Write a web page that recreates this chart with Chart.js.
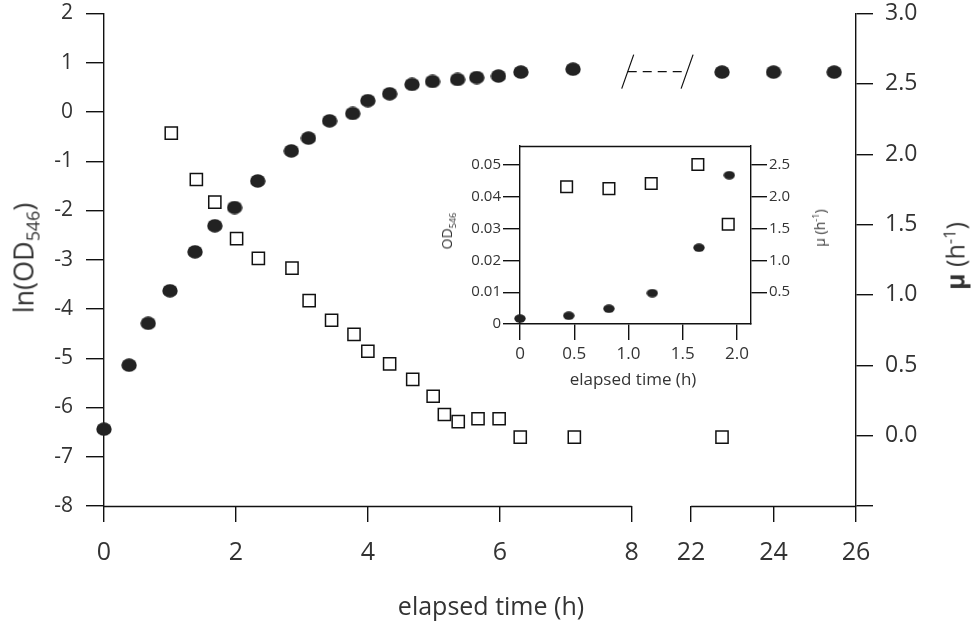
<!DOCTYPE html>
<html>
<head>
<meta charset="utf-8">
<script src="https://cdn.jsdelivr.net/npm/chart.js@4.4.1/dist/chart.umd.min.js"></script>
<style>
  body { margin: 0; background: #fff; }
  #wrap { position: relative; width: 975px; height: 624px; font-family: "Open Sans", sans-serif; color: #333; }
  #main { position: absolute; left: 0; top: 0; }
  #inset { position: absolute; left: 430px; top: 130px; }
  .ttl { position: absolute; white-space: nowrap; line-height: 1; transform: translate(-50%, -50%); }
  .rot { transform: translate(-50%, -50%) rotate(-90deg); }
  sub, sup { font-size: 66%; line-height: 0; }
</style>
</head>
<body>
<div id="wrap">
  <canvas id="main" width="975" height="624"></canvas>
  <canvas id="inset" width="410" height="270"></canvas>
  <div class="ttl" style="left:491px; top:605px; font-size:25px;">elapsed time (h)</div>
  <div class="ttl rot" style="left:23px; top:258px; font-size:27px;">ln(OD<sub>546</sub>)</div>
  <div class="ttl rot" style="left:955px; top:256px; font-size:25px;"><b>μ</b> (h<sup>-1</sup>)</div>
  <div class="ttl" style="left:633px; top:378px; font-size:17px;">elapsed time (h)</div>
  <div class="ttl rot" style="left:447px; top:231px; font-size:14px;">OD<sub>546</sub></div>
  <div class="ttl rot" style="left:820px; top:228px; font-size:14px;">μ (h<sup>-1</sup>)</div>
</div>
<script>
// main panel: ln(OD546) (filled circles) and μ (open squares) against time
const lnTime = [0, 0.38, 0.67, 1.0, 1.38, 1.68, 1.98, 2.33, 2.84, 3.10, 3.42, 3.77, 4.0, 4.33, 4.67, 4.98, 5.36, 5.65, 5.98, 6.32, 7.11, 22.75, 24.0, 25.47];
const lnValues = [-6.44, -5.14, -4.29, -3.63, -2.84, -2.31, -1.94, -1.40, -0.79, -0.53, -0.18, -0.03, 0.23, 0.37, 0.56, 0.62, 0.66, 0.70, 0.73, 0.81, 0.87, 0.81, 0.81, 0.81];
const muTime = [1.02, 1.40, 1.68, 2.01, 2.34, 2.85, 3.11, 3.45, 3.79, 4.0, 4.33, 4.68, 4.99, 5.16, 5.37, 5.67, 5.99, 6.31, 7.13, 22.75];
const muValues = [2.15, 1.82, 1.66, 1.40, 1.26, 1.19, 0.96, 0.82, 0.72, 0.60, 0.51, 0.40, 0.28, 0.15, 0.10, 0.12, 0.12, -0.01, -0.01, -0.01];

const xTickHours = [0, 2, 4, 6, 8, 22, 24, 26];
const xTickLabels = ["0", "2", "4", "6", "8", "22", "24", "26"];
const lnTicks = [-8, -7, -6, -5, -4, -3, -2, -1, 0, 1, 2];
const muTicks = [-0.5, 0, 0.5, 1.0, 1.5, 2.0, 2.5, 3.0];

// inset: first two hours, OD546 (circles) and μ (squares)
const insetOdTime = [0, 0.45, 0.82, 1.22, 1.65, 1.93];
const insetOdValues = [0.0017, 0.0026, 0.0048, 0.0097, 0.024, 0.0468];
const insetMuTime = [0.43, 0.82, 1.21, 1.64, 1.92];
const insetMuValues = [2.16, 2.13, 2.21, 2.51, 1.57];
const insetXTicks = [0, 0.5, 1.0, 1.5, 2.0];
const insetOdTicks = [0, 0.01, 0.02, 0.03, 0.04, 0.05];
const insetMuTicks = [0.5, 1.0, 1.5, 2.0, 2.5];

const FONT = '"Open Sans", sans-serif';
const INK = "#111";
const TXT = "#333";

// broken time axis: 0–8 h, then 22–26 h squeezed
function brokenX(h) {
  return h <= 8 ? h : 8.9 + (h - 22) * 0.625;
}

function ellipseDot(w, h) {
  const c = document.createElement("canvas");
  c.width = w;
  c.height = h;
  const g = c.getContext("2d");
  g.fillStyle = "#222";
  g.beginPath();
  g.ellipse(w / 2, h / 2, w / 2 - 0.3, h / 2 - 0.3, 0, 0, Math.PI * 2);
  g.fill();
  return c;
}

const fixTicks = (list) => (axis) => { axis.ticks = list.map((v) => ({ value: v })); };
// fixed axis box size, no label overhang padding
const fixSize = (key, px) => (axis) => {
  axis[key] = px;
  axis.paddingTop = axis.paddingBottom = axis.paddingLeft = axis.paddingRight = 0;
};

const brokenAxisLine = {
  id: "brokenAxisLine",
  beforeDatasetsDraw(chart) {
    const { ctx, chartArea, scales } = chart;
    const xs = scales.x;
    const y = Math.round(chartArea.bottom) + 0.5;
    ctx.save();
    ctx.strokeStyle = INK;
    ctx.lineWidth = 1.4;
    ctx.beginPath();
    ctx.moveTo(xs.getPixelForValue(brokenX(0)), y);
    ctx.lineTo(xs.getPixelForValue(brokenX(8)), y);
    ctx.moveTo(xs.getPixelForValue(brokenX(22)), y);
    ctx.lineTo(chartArea.right, y);
    ctx.stroke();
    ctx.restore();
  },
  afterDatasetsDraw(chart) {
    // break marker on the plateau
    const { ctx, scales } = chart;
    const yb = scales.y.getPixelForValue(0.82);
    const xa = scales.x.getPixelForValue(brokenX(8)) - 4;
    const xb = scales.x.getPixelForValue(brokenX(22)) - 4;
    ctx.save();
    ctx.strokeStyle = INK;
    ctx.lineWidth = 1.2;
    ctx.beginPath();
    [xa, xb].forEach((x) => {
      ctx.moveTo(x - 6, yb + 17);
      ctx.lineTo(x + 6, yb - 17);
    });
    ctx.stroke();
    ctx.setLineDash([9, 6]);
    ctx.beginPath();
    ctx.moveTo(xa, yb);
    ctx.lineTo(xb, yb);
    ctx.stroke();
    ctx.restore();
  },
};

const insetFrameTop = {
  id: "insetFrameTop",
  afterDraw(chart) {
    const { ctx, chartArea } = chart;
    ctx.save();
    ctx.strokeStyle = INK;
    ctx.lineWidth = 1.4;
    ctx.beginPath();
    ctx.moveTo(chartArea.left, Math.round(chartArea.top) + 0.5);
    ctx.lineTo(chartArea.right, Math.round(chartArea.top) + 0.5);
    ctx.stroke();
    ctx.restore();
  },
};

new Chart(document.getElementById("main"), {
  type: "scatter",
  data: {
    datasets: [
      {
        label: "ln(OD546)",
        data: lnTime.map((t, i) => ({ x: brokenX(t), y: lnValues[i] })),
        yAxisID: "y",
        pointStyle: ellipseDot(16, 14),
        pointRadius: 8,
        clip: false,
      },
      {
        label: "μ",
        data: muTime.map((t, i) => ({ x: brokenX(t), y: muValues[i] })),
        yAxisID: "y2",
        pointStyle: "rect",
        pointRadius: 8.6,
        borderColor: INK,
        borderWidth: 1.5,
        backgroundColor: "#fff",
        clip: false,
      },
    ],
  },
  options: {
    responsive: false,
    animation: false,
    layout: { padding: { top: 13.5 } },
    plugins: { legend: { display: false }, tooltip: { enabled: false } },
    scales: {
      x: {
        type: "linear",
        min: 0,
        max: brokenX(26),
        afterBuildTicks: fixTicks(xTickHours.map(brokenX)),
        afterFit: fixSize("height", 118),
        ticks: {
          callback: (v, i) => xTickLabels[i],
          font: { family: FONT, size: 25 },
          color: TXT,
          padding: 16,
          maxRotation: 0,
        },
        grid: { drawOnChartArea: false, tickLength: 16, color: INK, lineWidth: 1.4 },
        border: { display: false },
      },
      y: {
        position: "left",
        min: -8,
        max: 2,
        afterBuildTicks: fixTicks(lnTicks),
        afterFit: fixSize("width", 104),
        ticks: { font: { family: FONT, size: 21 }, color: TXT, padding: 13 },
        grid: { drawOnChartArea: false, tickLength: 18, color: INK, lineWidth: 1.4 },
        border: { display: true, color: INK, width: 1.4 },
      },
      y2: {
        position: "right",
        min: -0.5,
        max: 3,
        afterBuildTicks: fixTicks(muTicks),
        afterFit: fixSize("width", 119),
        ticks: {
          callback: (v) => (v < 0 ? "" : v.toFixed(1)),
          font: { family: FONT, size: 23 },
          color: TXT,
          padding: 12,
        },
        grid: { drawOnChartArea: false, tickLength: 17, color: INK, lineWidth: 1.4 },
        border: { display: true, color: INK, width: 1.4 },
      },
    },
  },
  plugins: [brokenAxisLine],
});

new Chart(document.getElementById("inset"), {
  type: "scatter",
  data: {
    datasets: [
      {
        label: "OD546",
        data: insetOdTime.map((t, i) => ({ x: t, y: insetOdValues[i] })),
        yAxisID: "y",
        pointStyle: ellipseDot(12, 9),
        pointRadius: 6,
        clip: false,
      },
      {
        label: "μ",
        data: insetMuTime.map((t, i) => ({ x: t, y: insetMuValues[i] })),
        yAxisID: "y2",
        pointStyle: "rect",
        pointRadius: 8.2,
        borderColor: INK,
        borderWidth: 1.5,
        backgroundColor: "#fff",
        clip: false,
      },
    ],
  },
  options: {
    responsive: false,
    animation: false,
    layout: { padding: { top: 16 } },
    plugins: { legend: { display: false }, tooltip: { enabled: false } },
    scales: {
      x: {
        type: "linear",
        min: 0,
        max: 2.13,
        afterBuildTicks: fixTicks(insetXTicks),
        afterFit: fixSize("height", 76),
        ticks: {
          callback: (v) => (v === 0 ? "0" : v.toFixed(1)),
          font: { family: FONT, size: 17 },
          color: TXT,
          padding: 4,
          maxRotation: 0,
        },
        grid: { drawOnChartArea: false, tickLength: 16, color: INK, lineWidth: 1.4 },
        border: { display: true, color: INK, width: 1.4 },
      },
      y: {
        position: "left",
        min: 0,
        max: 0.056,
        afterBuildTicks: fixTicks(insetOdTicks),
        afterFit: fixSize("width", 90),
        ticks: {
          callback: (v) => (v === 0 ? "0" : v.toFixed(2)),
          font: { family: FONT, size: 15 },
          color: TXT,
          padding: 2,
        },
        grid: { drawOnChartArea: false, tickLength: 17, color: INK, lineWidth: 1.4 },
        border: { display: true, color: INK, width: 1.4 },
      },
      y2: {
        position: "right",
        min: 0,
        max: 2.8,
        afterBuildTicks: fixTicks(insetMuTicks),
        afterFit: fixSize("width", 89),
        ticks: {
          callback: (v) => v.toFixed(1),
          font: { family: FONT, size: 15 },
          color: TXT,
          padding: 2,
        },
        grid: { drawOnChartArea: false, tickLength: 16, color: INK, lineWidth: 1.4 },
        border: { display: true, color: INK, width: 1.4 },
      },
    },
  },
  plugins: [insetFrameTop],
});
</script>
</body>
</html>
